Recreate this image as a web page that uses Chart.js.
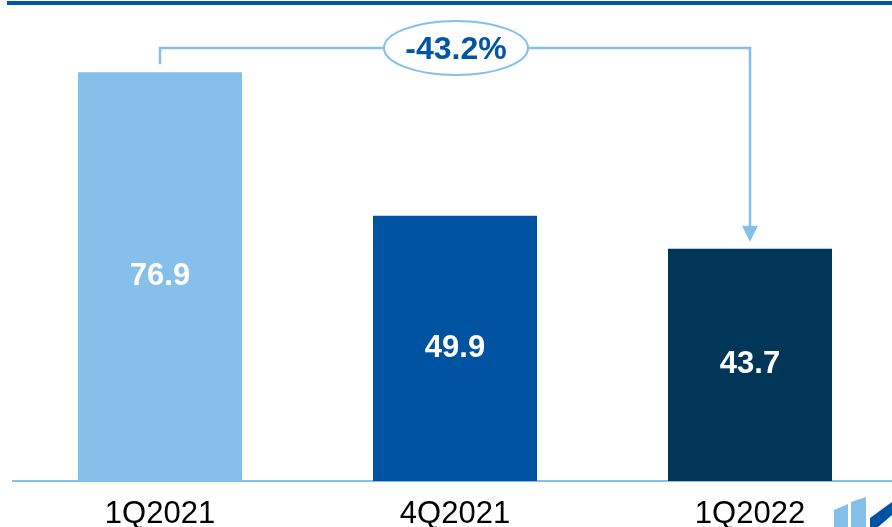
<!DOCTYPE html>
<html>
<head>
<meta charset="utf-8">
<script src="https://cdn.jsdelivr.net/npm/chart.js@4"></script>
<style>
  html, body { margin: 0; padding: 0; background: #fff; overflow: hidden; }
  #wrap { width: 900px; height: 549px; }
</style>
</head>
<body>
<div id="wrap"><canvas id="barChart" width="900" height="549"></canvas></div>
<script>
const categories = ['1Q2021', '4Q2021', '1Q2022'];
const values = [76.9, 49.9, 43.7];
const barColors = ['#84C0EA', '#0053A0', '#003758'];
const changeLabel = '-43.2%';

const lightBlue = '#85BFEA';
const darkBlue = '#0055A5';

// white value in the middle of each bar
const valueLabels = {
    id: 'valueLabels',
    afterDatasetsDraw(chart) {
        const ctx = chart.ctx;
        const meta = chart.getDatasetMeta(0);
        ctx.save();
        ctx.fillStyle = '#ffffff';
        ctx.font = 'bold 31px "Liberation Sans", Arial, sans-serif';
        ctx.textAlign = 'center';
        ctx.textBaseline = 'middle';
        meta.data.forEach((bar, i) => {
            ctx.fillText(values[i].toFixed(1), bar.x, (bar.y + bar.base) / 2);
        });
        ctx.restore();
    }
};

// bracket from first to last bar with the change bubble, top rule and logo bits
const decorations = {
    id: 'decorations',
    afterDraw(chart) {
        const ctx = chart.ctx;
        const meta = chart.getDatasetMeta(0);
        const first = meta.data[0];
        const last = meta.data[meta.data.length - 1];
        const lineY = 48;

        ctx.save();
        // top rule
        ctx.fillStyle = darkBlue;
        ctx.fillRect(7, 1, chart.width, 4);

        // bracket
        ctx.strokeStyle = lightBlue;
        ctx.lineWidth = 2.5;
        ctx.beginPath();
        ctx.moveTo(first.x, first.y - 8);
        ctx.lineTo(first.x, lineY);
        ctx.lineTo(last.x, lineY);
        ctx.lineTo(last.x, last.y - 22);
        ctx.stroke();

        // arrow head
        ctx.fillStyle = lightBlue;
        ctx.beginPath();
        ctx.moveTo(last.x - 8, last.y - 23);
        ctx.lineTo(last.x + 8, last.y - 23);
        ctx.lineTo(last.x, last.y - 7);
        ctx.closePath();
        ctx.fill();

        // bubble
        const midX = (meta.data[1].x + 1);
        ctx.beginPath();
        ctx.ellipse(midX, lineY, 72, 27, 0, 0, Math.PI * 2);
        ctx.fillStyle = '#ffffff';
        ctx.fill();
        ctx.lineWidth = 2;
        ctx.strokeStyle = lightBlue;
        ctx.stroke();

        ctx.fillStyle = darkBlue;
        ctx.font = 'bold 32px "Liberation Sans", Arial, sans-serif';
        ctx.textAlign = 'center';
        ctx.textBaseline = 'middle';
        ctx.fillText(changeLabel, midX, lineY + 2);

        // logo corner
        ctx.fillStyle = '#85BFEA';
        ctx.beginPath();
        ctx.moveTo(834, 510); ctx.lineTo(848, 504); ctx.lineTo(848, 527); ctx.lineTo(834, 527);
        ctx.closePath(); ctx.fill();
        ctx.beginPath();
        ctx.moveTo(851, 502); ctx.lineTo(866, 497); ctx.lineTo(866, 527); ctx.lineTo(851, 527);
        ctx.closePath(); ctx.fill();
        ctx.fillStyle = '#0053A0';
        ctx.beginPath();
        ctx.moveTo(870, 518); ctx.lineTo(892, 502); ctx.lineTo(892, 515); ctx.lineTo(878, 527); ctx.lineTo(870, 527);
        ctx.closePath(); ctx.fill();
        ctx.restore();
    }
};

new Chart(document.getElementById('barChart'), {
    type: 'bar',
    data: {
        labels: categories,
        datasets: [{
            data: values,
            backgroundColor: barColors,
            borderWidth: 0,
            categoryPercentage: 1,
            barPercentage: 0.556
        }]
    },
    options: {
        responsive: false,
        animation: false,
        events: [],
        layout: { padding: { left: 12.5, right: 2.5, top: 2.5, bottom: 8.8 } },
        plugins: {
            legend: { display: false },
            tooltip: { enabled: false }
        },
        scales: {
            x: {
                grid: { display: false },
                border: { color: lightBlue, width: 2 },
                ticks: {
                    color: '#000000',
                    padding: 7,
                    font: { family: '"Liberation Sans", Arial, sans-serif', size: 31 }
                }
            },
            y: {
                display: false,
                min: 0,
                max: 90
            }
        }
    },
    plugins: [valueLabels, decorations]
});
</script>
</body>
</html>
